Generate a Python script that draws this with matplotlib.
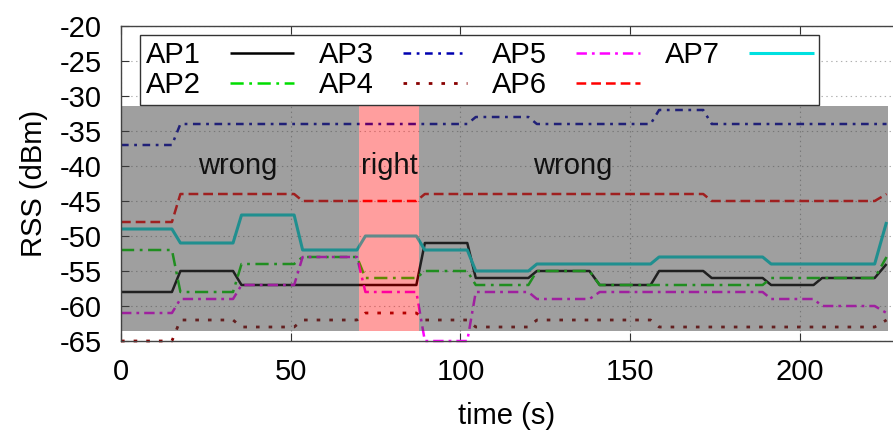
import matplotlib
matplotlib.use("Agg")
import matplotlib.pyplot as plt
import numpy as np
from matplotlib.patches import Rectangle

# ---- data ----
# step segments: each segment holds a constant level between seg_start and seg_end
seg_start = [0, 17.5, 35.5, 53.5, 72, 89.5, 104.5, 122.5, 141, 158.5, 174, 191.5, 206.5, 225.5]
seg_end = [15, 33, 51, 69.5, 87, 102, 120, 138, 156, 171.5, 189, 204, 222, 225.5]

AP1 = [-58, -55, -57, -57, -57, -51, -56, -55, -57, -55, -56, -57, -56, -54]
AP2 = [-52, -58, -54, -53, -56, -55, -57, -55, -57, -57, -57, -56, -56, -53]
AP3 = [-37, -34, -34, -34, -34, -34, -33, -34, -34, -32, -34, -34, -34, -34]
AP4 = [-65, -62, -63, -62, -61, -62, -63, -62, -62, -63, -63, -63, -63, -62]
AP5 = [-61, -59, -57, -53, -58, -65, -58, -59, -58, -58, -58, -59, -60, -61]
AP6 = [-48, -44, -44, -45, -45, -44, -44, -44, -44, -44, -45, -45, -45, -44]
AP7 = [-49, -51, -47, -52, -50, -52, -55, -54, -54, -53, -53, -54, -54, -48]

labels = ["AP1", "AP2", "AP3", "AP4", "AP5", "AP6", "AP7"]
series = [AP1, AP2, AP3, AP4, AP5, AP6, AP7]

wrong_span1 = (0, 70.2)
right_span = (70.2, 87.9)
wrong_span2 = (87.9, 226)
band_y = (-63.6, -31.5)

xticks = [0, 50, 100, 150, 200]
yticks = [-65, -60, -55, -50, -45, -40, -35, -30, -25, -20]

# ---- styles ----
plt.rcParams['font.family'] = ['Liberation Sans', 'DejaVu Sans']
plt.rcParams['lines.scale_dashes'] = False
plt.rcParams['axes.unicode_minus'] = False

colors = ["#000000", "#00dd00", "#0000b0", "#880000", "#ff00ff", "#ff0000", "#00e0e0"]
styles = [
    "-",
    (0, (9.5, 4.0, 2.0, 4.0)),
    (0, (5.5, 4.0, 2.0, 4.0)),
    (0, (2.6, 6.5)),
    (0, (7.5, 3.6, 2.0, 3.6)),
    (0, (7.0, 3.6)),
    "-",
]
widths = [1.8, 1.8, 1.8, 2.0, 1.8, 1.8, 2.2]

FS = 21


def step_xy(levels):
    xs, ys = [], []
    for s, e, v in zip(seg_start, seg_end, levels):
        xs.extend([s, e])
        ys.extend([v, v])
    return xs, ys


fig = plt.figure(figsize=(8.93, 4.36), dpi=100)
ax = fig.add_axes([121 / 893, 95 / 436, 772 / 893, 315 / 436])

ax.set_xlim(0, 227.4)
ax.set_ylim(-65, -20)
ax.set_xticks(xticks)
ax.set_yticks(yticks)

ax.grid(True, color="#b0b0b0", linestyle=(0, (1.0, 2.5)), linewidth=0.8, zorder=0)
ax.set_axisbelow(True)

handles = []
for lab, vals, c, ls, lw in zip(labels, series, colors, styles, widths):
    xs, ys = step_xy(vals)
    h, = ax.plot(xs, ys, color=c, linestyle=ls, linewidth=lw, label=lab,
                 zorder=2, clip_on=False, solid_capstyle='butt', dash_capstyle='butt')
    handles.append(h)

# overlays
for (x0, x1) in [wrong_span1, wrong_span2]:
    ax.add_patch(Rectangle((x0, band_y[0]), x1 - x0, band_y[1] - band_y[0],
                           facecolor="#404040", alpha=0.5, edgecolor="none", zorder=3))
ax.add_patch(Rectangle((right_span[0], band_y[0]), right_span[1] - right_span[0],
                       band_y[1] - band_y[0], facecolor="#ff0000", alpha=0.38,
                       edgecolor="none", zorder=3))

ax.text(34.5, -40, "wrong", fontsize=FS, ha="center", va="center", color="#111111", zorder=4)
ax.text(79, -40, "right", fontsize=FS, ha="center", va="center", color="#111111", zorder=4)
ax.text(133, -40, "wrong", fontsize=FS, ha="center", va="center", color="#111111", zorder=4)

ax.set_xlabel("time (s)", fontsize=FS, labelpad=12)
ax.set_ylabel("RSS (dBm)", fontsize=FS, labelpad=8)

ax.tick_params(axis="both", direction="in", length=5.5, width=0.8, labelsize=FS,
               color="#333333", top=True, right=False)
ax.tick_params(axis="y", pad=14)
ax.tick_params(axis="x", pad=12)
for sp in ["left", "bottom", "top"]:
    ax.spines[sp].set_color("#444444")
    ax.spines[sp].set_linewidth(1.0)
ax.spines["right"].set_visible(False)

leg = ax.legend(handles=handles, ncol=4, loc="upper left",
                bbox_to_anchor=(19 / 772, 1 - 9 / 315), borderaxespad=0,
                markerfirst=False, fontsize=FS, handlelength=2.2,
                handletextpad=1.0, columnspacing=0.85, labelspacing=0.08,
                borderpad=0.2, fancybox=False, framealpha=1, edgecolor="#333333")
leg.get_frame().set_linewidth(1.0)
leg.set_zorder(10)

fig.savefig("out.png", dpi=100)
